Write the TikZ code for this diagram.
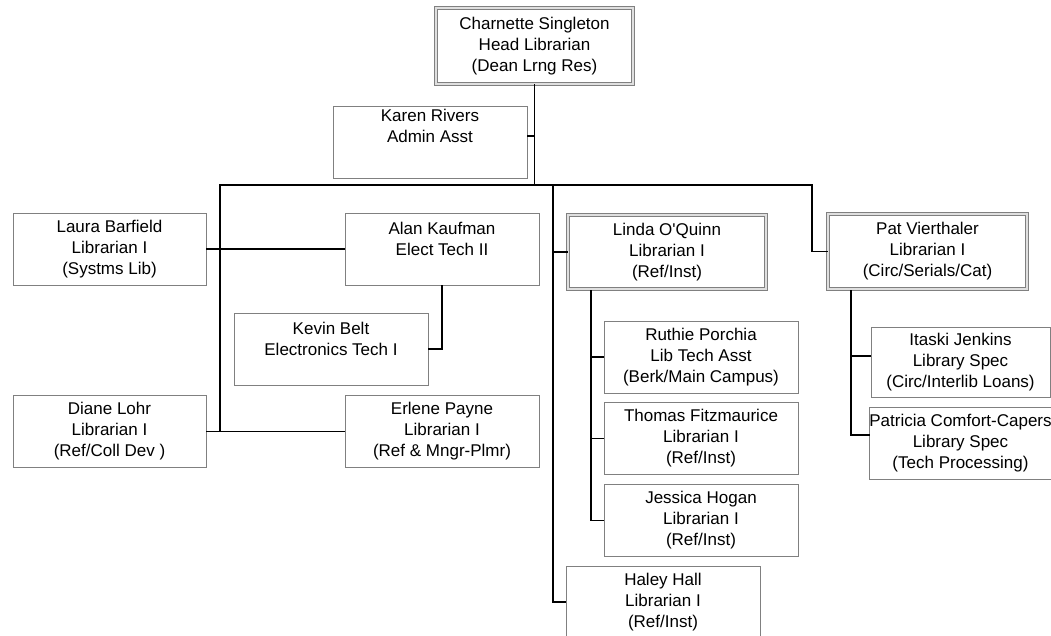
\documentclass[tikz,border=0pt]{standalone}
\usepackage{fontspec}
\setmainfont{Liberation Sans}
\definecolor{boxgray}{RGB}{128,128,128}

\begin{document}
\begin{tikzpicture}[x=0.75pt, y=-0.75pt,
    staff/.style={draw=boxgray, line width=0.75pt, fill=white, align=center,
        inner sep=0pt, minimum width=145.5pt, minimum height=54pt,
        font=\fontsize{12.75}{15.75}\selectfont},
    lead/.style={staff, double=boxgray!25, double distance=1.5pt,
        minimum width=148.5pt, minimum height=56pt},
    link/.style={line width=1.1pt, line cap=rect}]

\useasboundingbox (0,0) rectangle (1051,636);
\clip (0,0) rectangle (1051,636);

%%head
\node[lead, minimum width=147.75pt, minimum height=57pt] (head) at (534.5,46)
    {Charnette Singleton\\Head Librarian\\(Dean Lrng Res)};
\node[staff] (karen) at (430,142) {Karen Rivers\\Admin Asst\\[9pt]\mbox{}};

%%left branch
\node[staff, minimum width=144.75pt] (laura) at (109.5,249)
    {Laura Barfield\\Librarian I\\(Systms Lib)};
\node[staff] (alan) at (442,249) {Alan Kaufman\\Elect Tech II\\\mbox{}};
\node[staff] (kevin) at (331,349) {Kevin Belt\\Electronics Tech I\\\mbox{}};
\node[staff, minimum width=144.75pt] (diane) at (109.5,431.5)
    {Diane Lohr\\Librarian I\\(Ref/Coll Dev )};
\node[staff] (erlene) at (442,431.5) {Erlene Payne\\Librarian I\\(Ref \& Mngr-Plmr)};

%%middle branch
\node[lead] (linda) at (667,252) {Linda O\textquotesingle Quinn\\Librarian I\\(Ref/Inst)};
\node[staff] (ruthie) at (701,357) {Ruthie Porchia\\Lib Tech Asst\\(Berk/Main Campus)};
\node[staff] (thomas) at (701,438.5) {Thomas Fitzmaurice\\Librarian I\\(Ref/Inst)};
\node[staff] (jessica) at (701,520.5) {Jessica Hogan\\Librarian I\\(Ref/Inst)};
\node[staff] (haley) at (663,602) {Haley Hall\\Librarian I\\(Ref/Inst)};

%%right branch
\node[lead, minimum width=149.25pt] (pat) at (927.5,251.5)
    {Pat Vierthaler\\Librarian I\\(Circ/Serials/Cat)};
\node[staff, minimum width=134.25pt, minimum height=52.5pt] (itaski) at (960.5,362)
    {Itaski Jenkins\\Library Spec\\(Circ/Interlib Loans)};
\node[staff, minimum width=134.25pt, minimum height=54pt] (patricia) at (960.5,443)
    {Patricia Comfort-Capers\\Library Spec\\(Tech Processing)};

%%connector points
\coordinate (busL) at (220,185);
\coordinate (busM) at (553,185);
\coordinate (busR) at (812,185);
\coordinate (karenlink) at ([yshift=4.5pt]karen.east);
\coordinate (lindadrop) at (591,291);
\coordinate (patdrop) at (851,291);
\coordinate (itaskilink) at ([yshift=4.5pt]itaski.west);
\coordinate (patricialink) at ([yshift=6pt]patricia.west);

%%top
\draw[link] (head.south) -- (head.south |- busL);
\draw[link] (karenlink) -- (head.south |- karenlink);
\draw[link] (busL) -- (busR);

%%left
\draw[link] (busL) -- (busL |- diane.east);
\draw[link] (laura.east) -- (alan.west);
\draw[link] (diane.east) -- (erlene.west);
\draw[link] (alan.south) -- (alan.south |- kevin.east) -- (kevin.east);

%%middle
\draw[link] (busM) -- (busM |- haley.west) -- (haley.west);
\draw[link] (busM |- linda.west) -- (linda.west);
\draw[link] (lindadrop) -- (lindadrop |- jessica.west) -- (jessica.west);
\draw[link] (lindadrop |- ruthie.west) -- (ruthie.west);
\draw[link] (lindadrop |- thomas.west) -- (thomas.west);

%%right
\draw[link] (busR) -- (busR |- pat.west) -- (pat.west);
\draw[link] (patdrop) -- (patdrop |- patricialink) -- (patricialink);
\draw[link] (patdrop |- itaskilink) -- (itaskilink);

\end{tikzpicture}
\end{document}
